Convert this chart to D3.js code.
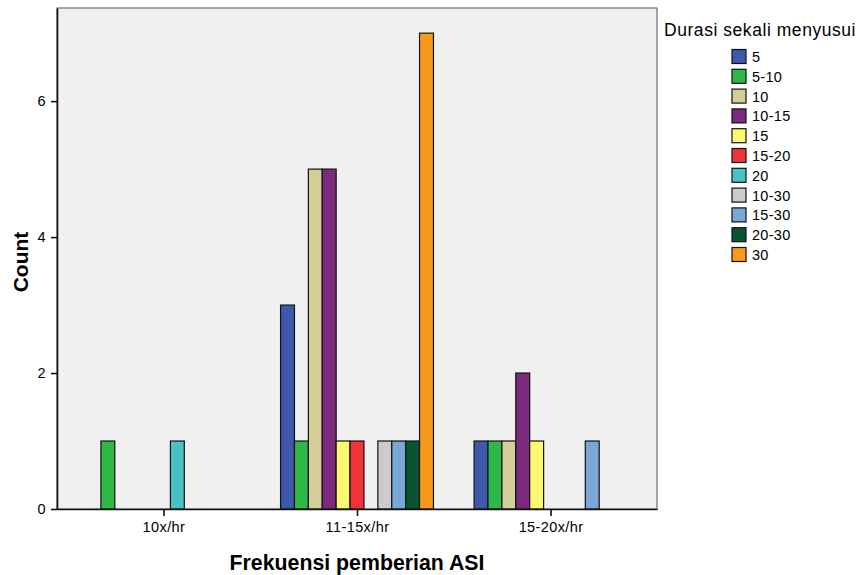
<!DOCTYPE html>
<html>
<head>
<meta charset="utf-8">
<script src="https://cdn.jsdelivr.net/npm/d3@7"></script>
<style>
  body { margin: 0; background: #fff; }
  text { font-family: Arial, "Liberation Sans", sans-serif; fill: #000; }
</style>
</head>
<body>
<div id="chart"></div>
<script>
// categories on the x axis
const categories = ['10x/hr', '11-15x/hr', '15-20x/hr'];
// legend series (Durasi sekali menyusui)
const series = ['5', '5-10', '10', '10-15', '15', '15-20', '20', '10-30', '15-30', '20-30', '30'];
const colors = ['#3E58AC', '#2EB848', '#D3CE97', '#7B2A7E', '#FBF873', '#EF3338',
                '#48C2C5', '#CCCCCC', '#79A7D7', '#0A5430', '#F8981D'];
// counts per category, one value per series (0 = no bar)
const counts10 = [0, 1, 0, 0, 0, 0, 1, 0, 0, 0, 0];
const counts11_15 = [3, 1, 5, 5, 1, 1, 0, 1, 1, 1, 7];
const counts15_20 = [1, 1, 1, 2, 1, 0, 0, 0, 1, 0, 0];
const yTicks = [0, 2, 4, 6];

const width = 861, height = 575;
const plot = {left: 57, right: 657, top: 8, bottom: 509};
const font = 'Arial, "Liberation Sans", sans-serif';

const svg = d3.select('#chart').append('svg')
    .attr('width', width)
    .attr('height', height);

const x = d3.scalePoint()
    .domain(categories)
    .range([plot.left, plot.right])
    .padding(0.55);

const barW = 13.9;
const xInner = d3.scaleBand()
    .domain(series)
    .range([-barW * series.length / 2, barW * series.length / 2]);

const y = d3.scaleLinear()
    .domain([0, 7.37])
    .range([plot.bottom, plot.top]);

// plot background
svg.append('rect')
    .attr('x', plot.left).attr('y', plot.top)
    .attr('width', plot.right - plot.left)
    .attr('height', plot.bottom - plot.top)
    .attr('fill', '#F0F0F0')
    .attr('stroke', '#555')
    .attr('stroke-width', 1);

const rows = [counts10, counts11_15, counts15_20];
const bars = [];
rows.forEach((vals, ci) => {
    vals.forEach((v, si) => {
        if (v > 0) bars.push({cat: categories[ci], s: series[si], color: colors[si], v: v});
    });
});

svg.append('g').selectAll('rect')
    .data(bars)
    .join('rect')
    .attr('x', d => x(d.cat) + xInner(d.s))
    .attr('y', d => y(d.v))
    .attr('width', xInner.bandwidth())
    .attr('height', d => y(0) - y(d.v))
    .attr('fill', d => d.color)
    .attr('stroke', '#111')
    .attr('stroke-width', 1.2);

// axes
const yAxis = svg.append('g')
    .attr('transform', `translate(${plot.left},0)`)
    .call(d3.axisLeft(y).tickValues(yTicks).tickSize(6).tickSizeOuter(0)
        .tickPadding(5).tickFormat(d3.format('d')));
const xAxis = svg.append('g')
    .attr('transform', `translate(0,${plot.bottom})`)
    .call(d3.axisBottom(x).tickSize(7).tickSizeOuter(0).tickPadding(6));
[yAxis, xAxis].forEach(a => {
    a.select('.domain').attr('stroke', '#111').attr('stroke-width', 1.6);
    a.selectAll('.tick line').attr('stroke', '#111').attr('stroke-width', 1.6);
    a.selectAll('.tick text').attr('font-size', 14.5).attr('font-family', font)
        .attr('letter-spacing', 0.4).attr('fill', '#000');
});

// axis titles
svg.append('text')
    .attr('x', 357).attr('y', 570)
    .attr('text-anchor', 'middle')
    .attr('font-size', 21.3).attr('font-weight', 'bold')
    .text('Frekuensi pemberian ASI');
svg.append('text')
    .attr('transform', 'translate(28,262) rotate(-90)')
    .attr('text-anchor', 'middle')
    .attr('font-size', 21).attr('font-weight', 'bold')
    .text('Count');

// legend
svg.append('text')
    .attr('x', 664).attr('y', 36)
    .attr('font-size', 17.5)
    .attr('letter-spacing', 0.55)
    .text('Durasi sekali menyusui');

const legend = svg.append('g').selectAll('g')
    .data(series)
    .join('g')
    .attr('transform', (d, i) => `translate(732,${49.5 + i * 19.8})`);
legend.append('rect')
    .attr('width', 14).attr('height', 14)
    .attr('fill', (d, i) => colors[i])
    .attr('stroke', '#111').attr('stroke-width', 1.2);
legend.append('text')
    .attr('x', 20).attr('y', 12.5)
    .attr('font-size', 14.5)
    .attr('letter-spacing', 0.3)
    .text(d => d);
</script>
</body>
</html>
